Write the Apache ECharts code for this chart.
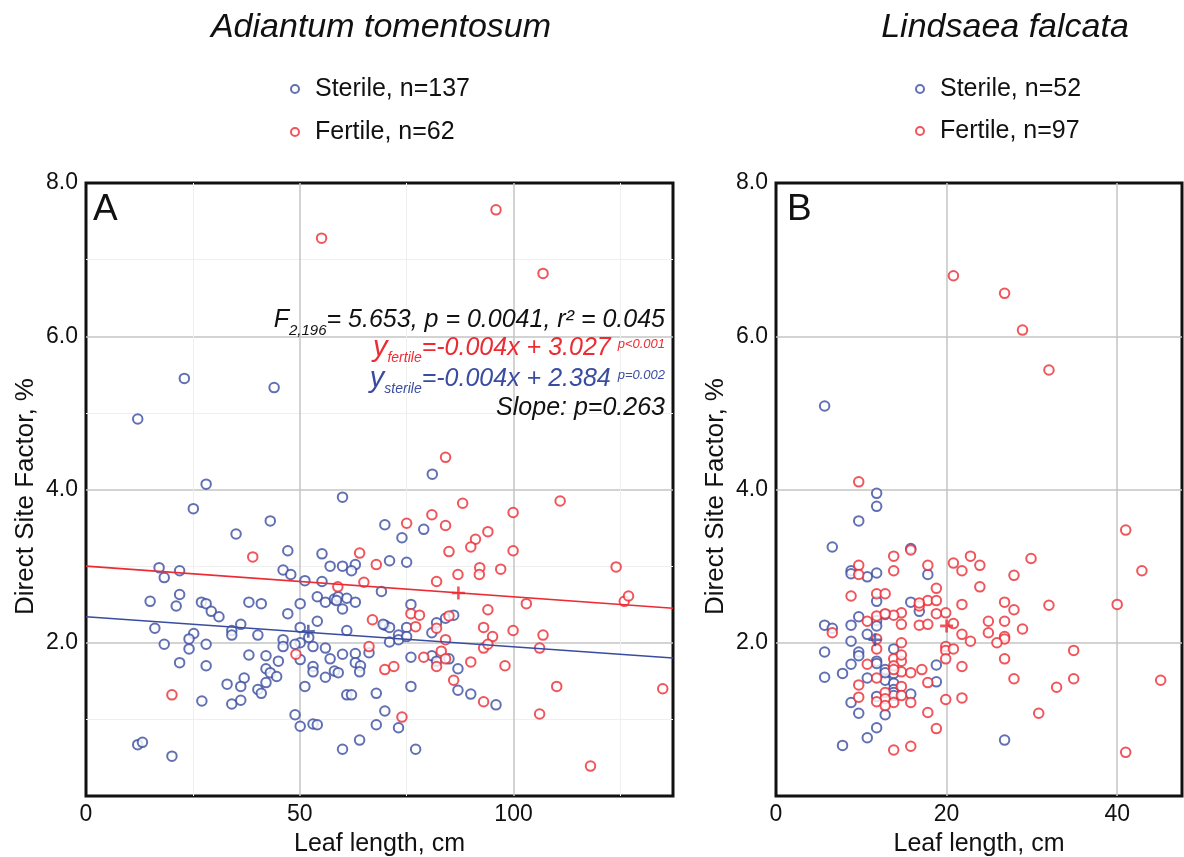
<!DOCTYPE html>
<html><head><meta charset="utf-8">
<script src="https://cdn.jsdelivr.net/npm/echarts@6/dist/echarts.min.js"></script>
<style>html,body{margin:0;padding:0;background:#fff}#c{width:1184px;height:857px}</style>
</head><body><div id="c"></div>
<script>
// ---------- Panel A: Adiantum tomentosum ----------
var aSterile = [
[28.1,4.07],[25.1,3.75],[60.0,3.90],[43.1,3.59],[35.1,3.42],[47.2,3.20],[55.2,3.16],[17.1,2.98],[21.9,2.94],[18.3,2.85],
[46.1,2.95],[47.9,2.89],[57.1,3.00],[60.0,3.00],[63.0,3.02],[62.1,2.94],[51.2,2.81],[55.2,2.80],[15.0,2.54],[21.9,2.63],
[21.1,2.48],[27.0,2.53],[28.1,2.51],[29.3,2.41],[31.1,2.34],[38.1,2.53],[41.0,2.51],[50.1,2.51],[54.1,2.60],[56.0,2.53],
[58.1,2.57],[59.0,2.60],[61.0,2.58],[63.0,2.53],[60.0,2.44],[47.2,2.38],[16.1,2.19],[25.2,2.12],[24.1,2.05],[24.1,1.92],
[18.3,1.98],[28.1,1.98],[34.1,2.16],[34.1,2.10],[36.2,2.24],[40.2,2.10],[50.1,2.20],[54.1,2.28],[61.0,2.16],[52.1,2.07],
[50.1,2.00],[48.9,1.98],[46.1,2.04],[46.1,1.95],[66.2,1.87],[53.1,1.95],[56.0,1.93],[60.0,1.85],[63.0,1.86],[57.1,1.79],
[63.0,1.74],[64.2,1.70],[64.0,1.62],[50.1,1.78],[45.0,1.76],[42.1,1.83],[38.1,1.84],[42.1,1.66],[43.1,1.61],[53.1,1.69],
[53.1,1.62],[56.0,1.55],[58.1,1.63],[59.0,1.61],[21.9,1.74],[28.1,1.70],[33.0,1.46],[37.0,1.54],[36.2,1.43],[42.1,1.48],
[40.2,1.39],[41.0,1.34],[51.2,1.43],[27.1,1.24],[34.1,1.20],[36.2,1.25],[61.0,1.32],[62.1,1.32],[67.9,1.34],[48.9,1.06],
[50.1,0.91],[53.1,0.94],[54.1,0.93],[67.9,0.93],[12.1,0.67],[13.2,0.70],[20.1,0.52],[60.0,0.61],[64.0,0.73],
[23.0,5.45],[12.1,4.92],[44.0,5.33],[81.0,4.20],
[69.9,3.54],[73.9,3.37],[79.0,3.48],[71.0,3.07],[75.0,3.05],[69.1,2.67],[76.0,2.50],[69.9,2.23],[71.0,2.20],[75.0,2.20],
[82.0,2.26],[84.1,2.32],[86.0,2.36],[73.1,2.10],[73.1,2.04],[75.0,2.08],[71.0,2.01],[80.9,2.13],[76.0,1.81],[80.9,1.83],
[82.0,1.76],[84.9,1.79],[87.0,1.66],[76.0,1.43],[87.0,1.38],[90.0,1.33],[95.9,1.19],[69.9,1.11],[73.1,0.89],[77.1,0.61],
[69.5,2.24],[58.6,2.55],[44.6,1.56]
];
var aFertile = [
[39.0,3.12],[64.0,3.17],[67.9,3.02],[58.9,2.73],[65.0,2.79],[67.0,2.30],[66.2,1.95],[49.1,1.85],[20.1,1.32],
[55.1,7.28],[95.9,7.65],[106.9,6.82],[84.1,4.42],
[88.1,3.82],[110.9,3.85],[75.0,3.56],[80.9,3.67],[84.1,3.53],[99.9,3.70],[94.0,3.45],[91.1,3.35],[90.0,3.25],[84.9,3.19],
[99.9,3.20],[92.1,2.98],[92.0,2.89],[97.0,2.96],[87.0,2.89],[82.0,2.80],[124.0,2.99],[125.9,2.54],[126.9,2.61],[103.0,2.51],
[76.0,2.38],[78.0,2.36],[94.0,2.43],[77.1,2.21],[82.0,2.19],[84.9,2.35],[93.0,2.20],[99.9,2.16],[106.9,2.10],[95.1,2.08],
[84.1,2.04],[93.0,1.93],[94.0,1.98],[106.1,1.93],[79.0,1.81],[82.0,1.69],[83.1,1.89],[84.1,1.79],[90.0,1.75],[98.0,1.70],
[69.9,1.65],[72.0,1.69],[86.0,1.51],[110.1,1.43],[134.9,1.40],[93.0,1.23],[73.9,1.03],[106.1,1.07],[118.0,0.39]
];
var aFertileLine = [[0, 3.00], [137.3, 2.45]];
var aSterileLine = [[0, 2.34], [137.3, 1.80]];
var aFertileMean = [[87.1, 2.65]];
var aSterileMean = [[52.0, 2.15]];

// ---------- Panel B: Lindsaea falcata ----------
var bSterile = [
[5.7,5.09],[11.8,3.95],[11.8,3.78],[9.7,3.59],[6.6,3.25],[15.8,3.23],[8.8,2.94],[8.8,2.90],[10.7,2.86],[11.8,2.91],
[17.8,2.89],[11.8,2.54],[15.8,2.53],[16.8,2.41],[12.8,2.37],[9.7,2.34],[11.8,2.29],[11.8,2.22],[5.7,2.23],[6.6,2.19],
[8.8,2.23],[10.7,2.11],[8.8,2.02],[5.7,1.88],[9.7,1.88],[9.7,1.83],[13.8,1.92],[11.8,1.76],[11.8,1.73],[8.8,1.72],
[18.8,1.71],[12.8,1.65],[13.8,1.60],[7.8,1.60],[5.7,1.55],[10.7,1.54],[12.8,1.51],[18.8,1.49],[13.8,1.47],[13.8,1.39],
[13.8,1.35],[15.8,1.33],[11.8,1.30],[8.8,1.22],[9.7,1.08],[12.8,1.06],[11.8,0.89],[10.7,0.76],[26.8,0.73],[7.8,0.66],
[12.8,1.61],[13.8,1.31]
];
var bFertile = [
[20.8,6.79],[26.8,6.56],[28.9,6.08],[32.0,5.56],[9.7,4.10],[41.0,3.47],[15.8,3.21],[13.8,3.13],[22.8,3.13],[29.9,3.10],
[20.8,3.04],[23.9,3.01],[17.8,3.01],[9.7,3.01],[21.8,2.94],[13.8,2.94],[42.9,2.94],[9.7,2.89],[27.9,2.88],[23.9,2.73],
[18.8,2.71],[8.8,2.61],[11.8,2.64],[12.8,2.64],[16.8,2.48],[17.8,2.55],[18.8,2.55],[26.8,2.53],[21.8,2.50],[32.0,2.49],
[40.0,2.50],[27.9,2.43],[19.9,2.39],[18.8,2.38],[14.7,2.39],[13.8,2.36],[11.8,2.35],[24.9,2.28],[26.8,2.28],[14.7,2.24],
[16.8,2.23],[17.8,2.24],[20.8,2.25],[6.6,2.13],[28.9,2.18],[24.9,2.13],[21.8,2.11],[26.8,2.08],[26.8,2.05],[11.8,2.05],
[22.8,2.02],[25.9,2.00],[14.7,2.00],[19.9,1.95],[19.9,1.90],[20.8,1.92],[34.9,1.90],[11.8,1.92],[19.9,1.79],[26.8,1.79],
[13.8,1.79],[14.7,1.76],[10.7,1.72],[21.8,1.69],[13.8,1.70],[17.1,1.65],[14.7,1.62],[15.8,1.61],[11.8,1.54],[27.9,1.53],
[34.9,1.53],[45.1,1.51],[17.8,1.48],[9.7,1.45],[14.7,1.43],[32.9,1.42],[12.8,1.35],[14.7,1.31],[9.7,1.29],[12.8,1.27],
[19.9,1.26],[21.8,1.28],[11.8,1.23],[13.8,1.22],[15.8,1.22],[12.8,1.18],[17.8,1.09],[30.8,1.08],[18.8,0.88],[15.8,0.65],
[13.8,0.60],[41.0,0.57],[13.8,1.65],[12.8,2.38],[16.8,2.52],[10.7,2.28],[14.7,1.84]
];
var bFertileMean = [[20.0, 2.22]];
var bSterileMean = [[11.6, 2.04]];

var yTicks = ['2.0', '4.0', '6.0', '8.0'];

var BLUE = '#3a4ca0', RED = '#ec2b33';
var FONT = '"Liberation Sans", Arial, sans-serif';
var PLUS = 'path://M4,0H6V4H10V6H6V10H4V6H0V4H4Z';

function xAx(idx, max, interval, minor) {
  return {
    type: 'value', gridIndex: idx, min: 0, max: max, interval: interval,
    name: 'Leaf length, cm', nameLocation: 'middle', nameGap: 36,
    nameTextStyle: { fontFamily: FONT, fontSize: 25, color: '#111' },
    axisLine: { show: false }, axisTick: { show: false },
    axisLabel: { fontFamily: FONT, fontSize: 23, color: '#111', margin: 7, showMaxLabel: false },
    splitLine: { show: true, showMinLine: false, showMaxLine: false, lineStyle: { color: '#c4c4c4', width: 1.5 } },
    minorTick: { show: false, splitNumber: 2 },
    minorSplitLine: { show: minor, lineStyle: { color: '#efefef', width: 1 } }
  };
}
function yAx(idx, minor) {
  return {
    type: 'value', gridIndex: idx, min: 0, max: 8, interval: 2,
    name: 'Direct Site Factor, %', nameLocation: 'middle', nameGap: 47,
    nameTextStyle: { fontFamily: FONT, fontSize: 26, color: '#111', padding: [0, 14, 0, 0] },
    axisLine: { show: false }, axisTick: { show: false },
    axisLabel: { fontFamily: FONT, fontSize: 23, color: '#111', margin: 8,
      formatter: function (v) { var i = Math.round(v / 2) - 1; return i >= 0 ? yTicks[i] : ''; } },
    splitLine: { show: true, showMinLine: false, showMaxLine: false, lineStyle: { color: '#c4c4c4', width: 1.5 } },
    minorTick: { show: false, splitNumber: 2 },
    minorSplitLine: { show: minor, lineStyle: { color: '#efefef', width: 1 } }
  };
}
function pts(name, data, color, gi) {
  return { type: 'scatter', name: name, xAxisIndex: gi, yAxisIndex: gi, data: data,
    symbol: 'emptyCircle', symbolSize: 9.5,
    itemStyle: { color: color, borderColor: color, borderWidth: 1.6 }, z: 3 };
}
function mean(data, color, gi) {
  return { type: 'scatter', data: data, xAxisIndex: gi, yAxisIndex: gi, symbol: PLUS, symbolSize: 13,
    itemStyle: { color: color }, z: 5, silent: true };
}
function reg(data, color) {
  return { type: 'line', data: data, xAxisIndex: 0, yAxisIndex: 0, symbol: 'none',
    lineStyle: { color: color, width: 1.6 }, z: 4, silent: true };
}
function legendCfg(left, names, gap) {
  return { left: left, top: 71, orient: 'vertical', itemWidth: 30, itemHeight: 8, itemGap: gap,
    data: names, selectedMode: false,
    itemStyle: { borderWidth: 1.4 },
    textStyle: { fontFamily: FONT, fontSize: 25, color: '#111', lineHeight: 26 } };
}
function gridCfg(left, width) {
  return { left: left, top: 183, width: width, height: 613, show: true, borderColor: '#111', borderWidth: 3,
    backgroundColor: 'transparent', containLabel: false, outerBoundsMode: 'none' };
}

var chart = echarts.init(document.getElementById('c'), null, { renderer: 'canvas' });
chart.setOption({
  animation: false,
  backgroundColor: '#fff',
  title: [
    { text: 'Adiantum tomentosum', left: 376, top: 6, textAlign: 'center',
      textStyle: { fontFamily: FONT, fontSize: 34, fontStyle: 'italic', fontWeight: 'normal', color: '#111' } },
    { text: 'Lindsaea falcata', left: 1000, top: 6, textAlign: 'center',
      textStyle: { fontFamily: FONT, fontSize: 34, fontStyle: 'italic', fontWeight: 'normal', color: '#111' } }
  ],
  legend: [
    legendCfg(285, ['Sterile, n=137', 'Fertile, n=62'], 17),
    legendCfg(910, ['Sterile, n=52', 'Fertile, n=97'], 16)
  ],
  grid: [gridCfg(86, 587), gridCfg(776, 406)],
  xAxis: [xAx(0, 137.3, 50, true), xAx(1, 47.6, 20, false)],
  yAxis: [yAx(0, true), yAx(1, false)],
  series: [
    pts('Sterile, n=137', aSterile, BLUE, 0),
    pts('Fertile, n=62', aFertile, RED, 0),
    reg(aFertileLine, RED),
    reg(aSterileLine, BLUE),
    mean(aFertileMean, RED, 0),
    mean(aSterileMean, BLUE, 0),
    pts('Sterile, n=52', bSterile, BLUE, 1),
    pts('Fertile, n=97', bFertile, RED, 1),
    mean(bFertileMean, RED, 1),
    mean(bSterileMean, BLUE, 1)
  ],
  graphic: [
    { type: 'text', left: 93, top: 191, style: { text: 'A', font: '37px ' + FONT, fill: '#111' } },
    { type: 'text', left: 787, top: 191, style: { text: 'B', font: '37px ' + FONT, fill: '#111' } },
    { type: 'text', x: 665, y: 320, z: 10, style: {
        text: '{m|F}{s|2,196}{m|= 5.653, p = 0.0041, r² = 0.045}', align: 'right', verticalAlign: 'middle',
        rich: { m: { fontFamily: FONT, fontSize: 25, fontStyle: 'italic', fill: '#111' },
                s: { fontFamily: FONT, fontSize: 15, fontStyle: 'italic', fill: '#111', padding: [22, 0, 0, 0] } } } },
    { type: 'text', x: 665, y: 348, z: 10, style: {
        text: '{y|y}{s|fertile}{m|=-0.004x + 3.027 }{p|p<0.001}', align: 'right', verticalAlign: 'middle',
        rich: { y: { fontFamily: FONT, fontSize: 29, fontStyle: 'italic', fill: RED },
                m: { fontFamily: FONT, fontSize: 25, fontStyle: 'italic', fill: RED },
                s: { fontFamily: FONT, fontSize: 14, fontStyle: 'italic', fill: RED, padding: [20, 0, 0, 0] },
                p: { fontFamily: FONT, fontSize: 13, fontStyle: 'italic', fill: RED, padding: [0, 0, 8, 0] } } } },
    { type: 'text', x: 665, y: 379, z: 10, style: {
        text: '{y|y}{s|sterile}{m|=-0.004x + 2.384 }{p|p=0.002}', align: 'right', verticalAlign: 'middle',
        rich: { y: { fontFamily: FONT, fontSize: 29, fontStyle: 'italic', fill: BLUE },
                m: { fontFamily: FONT, fontSize: 25, fontStyle: 'italic', fill: BLUE },
                s: { fontFamily: FONT, fontSize: 14, fontStyle: 'italic', fill: BLUE, padding: [20, 0, 0, 0] },
                p: { fontFamily: FONT, fontSize: 13, fontStyle: 'italic', fill: BLUE, padding: [0, 0, 8, 0] } } } },
    { type: 'text', x: 665, y: 408, z: 10, style: {
        text: 'Slope: p=0.263', align: 'right', verticalAlign: 'middle',
        font: 'italic 25px ' + FONT, fill: '#111' } }
  ]
});
</script>
</body></html>
